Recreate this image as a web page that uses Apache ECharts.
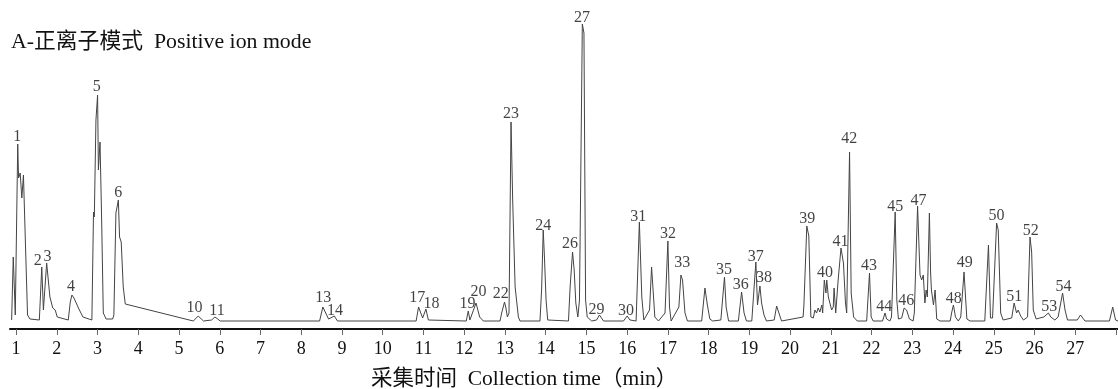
<!DOCTYPE html>
<html>
<head>
    <meta charset="utf-8">
    <title>Positive ion mode chromatogram</title>
    <script src="https://cdn.jsdelivr.net/npm/echarts@6/dist/echarts.min.js"></script>
    <style>
        body { margin: 0; background: #fff; }
    </style>
</head>
<body>
    <div id="chart" style="width: 1118px; height: 389px;"></div>
    <script>
        // 色谱曲线 [time (min), response]
        const chromatogram = [
            [0.89, 1], [0.93, 64], [0.98, 6], [1.04, 177], [1.06, 143], [1.10, 148], [1.14, 123], [1.18, 146],
            [1.28, 6], [1.34, 2], [1.57, 1], [1.63, 54], [1.67, 11], [1.75, 58], [1.79, 56], [1.83, 24],
            [1.90, 13], [1.96, 11], [2.01, 4], [2.28, 1], [2.33, 19], [2.37, 26], [2.42, 23], [2.53, 13],
            [2.64, 4], [2.86, 1], [2.90, 109], [2.92, 104], [2.96, 201], [2.98, 199], [3.00, 226], [3.02, 151],
            [3.06, 179], [3.10, 101], [3.14, 8], [3.21, 2], [3.37, 2], [3.40, 6], [3.45, 108], [3.51, 121],
            [3.54, 84], [3.58, 79], [3.63, 34], [3.68, 17], [5.35, 0], [5.47, 5], [5.60, 0], [5.80, 1],
            [5.88, 4], [5.95, 2], [6.01, 0], [8.45, 0], [8.53, 14], [8.67, 2], [8.81, 5], [8.89, 0],
            [10.82, 0], [10.88, 14], [10.98, 3], [11.06, 12], [11.12, 1], [12.05, 0], [12.10, 10], [12.14, 1],
            [12.29, 18], [12.38, 4], [12.47, 0], [12.88, 0], [12.92, 8], [12.99, 19], [13.02, 14], [13.06, 4],
            [13.10, 8], [13.15, 199], [13.19, 121], [13.25, 34], [13.33, 4], [13.37, 0], [13.86, 0], [13.90, 31],
            [13.94, 91], [13.97, 64], [14.01, 21], [14.05, 1], [14.56, 0], [14.60, 34], [14.66, 69], [14.70, 51],
            [14.74, 18], [14.79, 4], [14.83, 21], [14.90, 297], [14.94, 288], [14.98, 21], [15.02, 4], [15.13, 0],
            [15.25, 1], [15.32, 6], [15.42, 0], [15.91, 0], [16.00, 5], [16.07, 1], [16.22, 0], [16.30, 99],
            [16.36, 24], [16.41, 1], [16.55, 11], [16.60, 54], [16.68, 4], [16.77, 0], [16.93, 8], [17.00, 80],
            [17.04, 14], [17.08, 0], [17.27, 14], [17.32, 46], [17.36, 41], [17.42, 8], [17.48, 0], [17.83, 0],
            [17.91, 33], [17.97, 16], [18.03, 2], [18.10, 0], [18.30, 1], [18.39, 44], [18.43, 14], [18.49, 0],
            [18.73, 0], [18.81, 29], [18.87, 8], [18.93, 0], [19.06, 0], [19.16, 59], [19.20, 16], [19.26, 35],
            [19.30, 18], [19.36, 6], [19.42, 0], [19.61, 1], [19.67, 15], [19.79, 0], [20.32, 4], [20.34, 16],
            [20.41, 95], [20.46, 85], [20.51, 4], [20.57, 3], [20.61, 11], [20.65, 8], [20.69, 13], [20.73, 9],
            [20.78, 16], [20.80, 8], [20.84, 41], [20.88, 28], [20.90, 41], [20.94, 24], [20.98, 25], [21.02, 11],
            [21.06, 14], [21.08, 33], [21.12, 8], [21.18, 41], [21.25, 73], [21.31, 58], [21.36, 18], [21.39, 8],
            [21.46, 169], [21.50, 28], [21.56, 4], [21.65, 0], [21.88, 0], [21.95, 48], [21.99, 4], [22.04, 0],
            [22.27, 0], [22.33, 8], [22.37, 2], [22.45, 0], [22.49, 4], [22.58, 109], [22.62, 21], [22.66, 2],
            [22.74, 3], [22.80, 13], [22.86, 11], [22.93, 2], [23.02, 0], [23.05, 8], [23.13, 115], [23.19, 46],
            [23.23, 41], [23.27, 46], [23.31, 18], [23.34, 31], [23.37, 24], [23.39, 58], [23.42, 108], [23.45, 48],
            [23.47, 31], [23.52, 16], [23.56, 31], [23.60, 2], [23.68, 0], [23.93, 0], [23.97, 9], [24.01, 16],
            [24.06, 4], [24.13, 0], [24.19, 4], [24.27, 49], [24.34, 2], [24.42, 0], [24.78, 0], [24.87, 76],
            [24.92, 3], [24.97, 3], [25.07, 98], [25.11, 91], [25.17, 8], [25.23, 1], [25.44, 3], [25.50, 18],
            [25.56, 8], [25.60, 11], [25.66, 5], [25.73, 1], [25.83, 4], [25.89, 84], [25.93, 69], [25.97, 11],
            [26.04, 2], [26.13, 3], [26.23, 4], [26.34, 8], [26.40, 4], [26.50, 1], [26.58, 4], [26.69, 28],
            [26.75, 11], [26.81, 1], [27.05, 1], [27.13, 6], [27.24, 0], [27.84, 0], [27.92, 14], [27.99, 1],
            [28.05, 0]
        ];

        // 峰号及标注位置
        const peakIds = ['1', '2', '3', '4', '5', '6', '10', '11', '13', '14', '17', '18', '19', '20', '22',
            '23', '24', '26', '27', '29', '30', '31', '32', '33', '35', '36', '37', '38', '39', '40', '41',
            '42', '43', '44', '45', '46', '47', '48', '49', '50', '51', '52', '53', '54'];
        const peakLabelTime = [1.03, 1.53, 1.77, 2.35, 2.98, 3.51, 5.38, 5.93, 8.54, 8.83, 10.85, 11.20, 12.08,
            12.35, 12.90, 13.15, 13.94, 14.60, 14.89, 15.25, 15.97, 16.27, 17.00, 17.35, 18.38, 18.79, 19.16,
            19.36, 20.42, 20.86, 21.24, 21.45, 21.94, 22.31, 22.58, 22.85, 23.15, 24.02, 24.29, 25.07, 25.50,
            25.91, 26.36, 26.71];
        const peakLabelHeight = [184, 60, 64, 34, 234, 128, 13, 10, 23, 10, 23, 17, 17, 29, 27, 207, 95, 77,
            303, 11, 10, 104, 87, 58, 51, 36, 64, 43, 102, 48, 79, 182, 55, 14, 114, 20, 120, 22, 58, 105, 24,
            90, 14, 34];

        // 坐标轴刻度
        const tickValues = [1, 2, 3, 4, 5, 6, 7, 8, 9, 10, 11, 12, 13, 14, 15, 16, 17, 18, 19, 20, 21, 22,
            23, 24, 25, 26, 27, 28];
        const tickLabels = tickValues.slice(0, 27);

        const serif = "'Liberation Serif', 'Times New Roman', 'Noto Sans CJK SC', serif";

        const labelData = peakIds.map((id, i) => ({
            name: id,
            value: [peakLabelTime[i], peakLabelHeight[i]]
        }));

        const option = {
            backgroundColor: '#fff',
            animation: false,
            title: [
                {
                    text: 'A-正离子模式  Positive ion mode',
                    left: 11,
                    top: 31,
                    padding: 0,
                    textStyle: { fontSize: 21.8, fontWeight: 'normal', color: '#111', fontFamily: serif }
                },
                {
                    text: '采集时间  Collection time（min）',
                    left: 371,
                    top: 369,
                    padding: 0,
                    textStyle: { fontSize: 21.5, fontWeight: 'normal', color: '#111', fontFamily: serif }
                }
            ],
            grid: { left: 10, right: 0, top: 16, bottom: 60 },
            xAxis: {
                type: 'value',
                min: 0.85,
                max: 28.05,
                axisLine: { show: true, onZero: false, lineStyle: { color: '#111', width: 2 } },
                axisTick: { show: true, length: 6, lineStyle: { color: '#666', width: 1 }, customValues: tickValues },
                axisLabel: {
                    customValues: tickLabels,
                    margin: 11,
                    fontSize: 18,
                    color: '#111',
                    fontFamily: serif
                },
                splitLine: { show: false }
            },
            yAxis: {
                type: 'value',
                min: -8,
                max: 305,
                show: false
            },
            series: [
                {
                    type: 'line',
                    data: chromatogram,
                    showSymbol: false,
                    symbol: 'none',
                    lineStyle: { color: '#444', width: 1 },
                    silent: true
                },
                {
                    type: 'scatter',
                    data: labelData,
                    symbolSize: 0,
                    silent: true,
                    label: {
                        show: true,
                        position: 'inside',
                        formatter: '{b}',
                        fontSize: 16,
                        color: '#111',
                        fontFamily: serif
                    }
                }
            ]
        };

        const myChart = echarts.init(document.getElementById('chart'));
        myChart.setOption(option);
    </script>
</body>
</html>
